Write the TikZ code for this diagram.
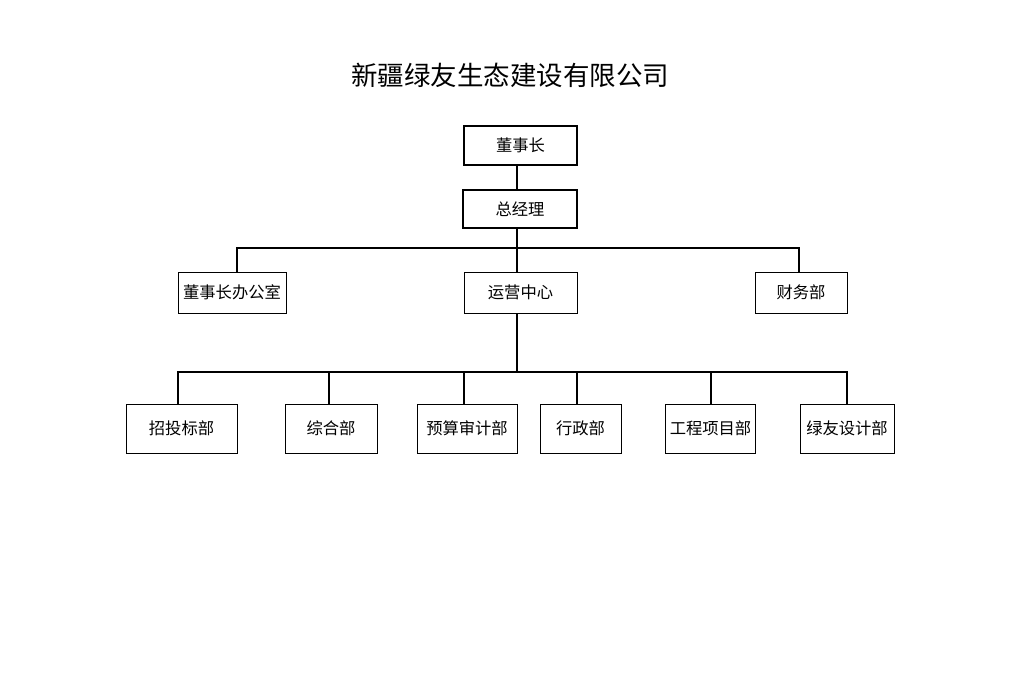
\documentclass[tikz,border=0pt]{standalone}
\usepackage{fontspec}
\setmainfont{Noto Sans CJK SC}
\begin{document}
\begin{tikzpicture}[x=1pt,y=-1pt,
  box/.style={draw=black,line width=0.8pt,inner sep=0pt,font=\fontsize{16.3}{18}\selectfont},
  topbox/.style={box,line width=2pt},
  conn/.style={draw=black,line width=2pt}]
\useasboundingbox[fill=white] (0,0) rectangle (1035,682);
\node[font=\fontsize{26.5}{30}\selectfont] (title) at (510,75) {新疆绿友生态建设有限公司};
% level 1
\node[topbox,minimum width=113pt,minimum height=39pt] (dsz) at (520.5,145.5) {董事长};
\node[topbox,minimum width=114pt,minimum height=38pt] (zjl) at (520,209) {总经理};
% level 2
\node[box,minimum width=108pt,minimum height=41pt] (bgs) at (232,292.5) {董事长办公室};
\node[box,minimum width=113pt,minimum height=41pt] (yyzx) at (520.5,292.5) {运营中心};
\node[box,minimum width=92pt,minimum height=41pt] (cwb) at (801,292.5) {财务部};
% level 3
\node[box,minimum width=111pt,minimum height=49pt] (ztb) at (181.5,428.5) {招投标部};
\node[box,minimum width=92pt,minimum height=49pt] (zhb) at (331,428.5) {综合部};
\node[box,minimum width=100pt,minimum height=49pt] (ysb) at (467,428.5) {预算审计部};
\node[box,minimum width=81pt,minimum height=49pt] (xzb) at (580.5,428.5) {行政部};
\node[box,minimum width=90pt,minimum height=49pt] (gcb) at (710.5,428.5) {工程项目部};
\node[box,minimum width=94pt,minimum height=49pt] (sjb) at (847,428.5) {绿友设计部};
% bus coordinates
\coordinate (b1) at (517,248);
\coordinate (b2) at (517,372);
% connectors
\draw[conn] ([xshift=-3.5pt]dsz.south) -- ([xshift=-3pt]zjl.north);
\draw[conn] ([xshift=-3pt]zjl.south) -- (b1);
\draw[conn] ([xshift=5pt]bgs.north) |- (b1);
\draw[conn] ([xshift=-2pt]cwb.north) |- (b1);
\draw[conn] (b1) -- ([xshift=-3.5pt]yyzx.north);
\draw[conn] ([xshift=-3.5pt]yyzx.south) -- (b2);
\draw[conn] ([xshift=-3.5pt]ztb.north) |- (b2);
\draw[conn] ([xshift=-2pt]zhb.north) |- (b2);
\draw[conn] ([xshift=-3pt]ysb.north) |- (b2);
\draw[conn] ([xshift=-3.5pt]xzb.north) |- (b2);
\draw[conn] ([xshift=0.5pt]gcb.north) |- (b2);
\draw[conn] (sjb.north) |- (b2);
\end{tikzpicture}
\end{document}
